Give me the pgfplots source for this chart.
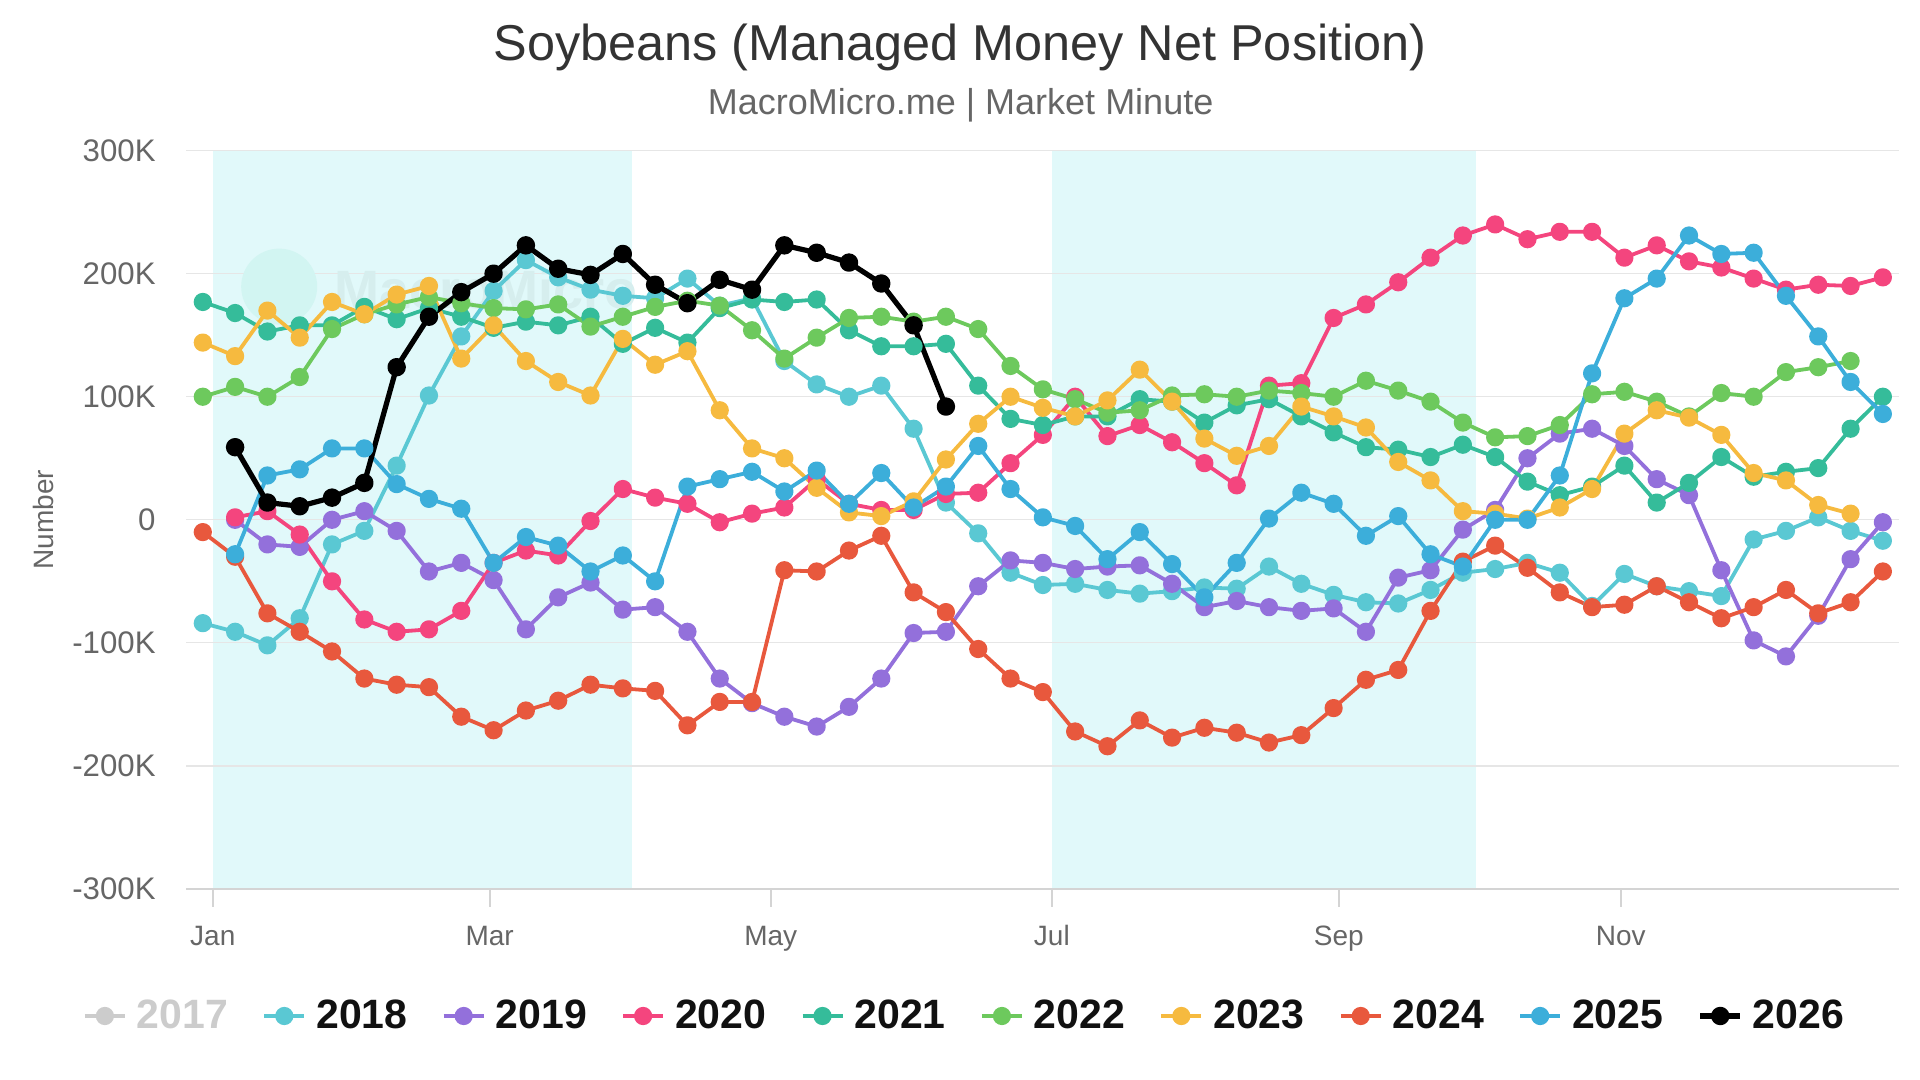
\documentclass[border=0pt]{standalone}
\usepackage{fontspec}
\setmainfont{Liberation Sans}
\usepackage{pgfplots}
\pgfplotsset{compat=1.18}
\definecolor{c2017}{HTML}{CCCCCC}
\definecolor{c2018}{HTML}{5AC8D3}
\definecolor{c2019}{HTML}{9370DB}
\definecolor{c2020}{HTML}{F4457E}
\definecolor{c2021}{HTML}{35BC9A}
\definecolor{c2022}{HTML}{6DC95D}
\definecolor{c2023}{HTML}{F6BA3F}
\definecolor{c2024}{HTML}{E8583D}
\definecolor{c2025}{HTML}{3CAEDA}
\definecolor{c2026}{HTML}{000000}
\definecolor{bandc}{HTML}{E1F9FA}
\definecolor{gridgrey}{HTML}{E6E6E6}
\definecolor{axisgrey}{HTML}{D4D4D4}
\definecolor{labelgrey}{HTML}{666666}
\definecolor{titlegrey}{HTML}{333333}
\definecolor{legendtext}{HTML}{111111}
\definecolor{wmtext}{HTML}{D6EEEE}
\definecolor{wmcircle}{HTML}{D2F5F2}
\pgfplotsset{
  ser/.style={color=#1, line width=1.9pt, line join=round, mark=*, mark size=3.6pt, mark options={draw=none, fill=#1}},
}
\begin{document}
\begin{tikzpicture}
\begin{axis}[
  set layers,
  at={(93pt,95.5pt)}, anchor=south west,
  scale only axis, width=856.5pt, height=369.2pt,
  xmin=-0.52, xmax=52.5, ymin=-300, ymax=300,
  axis x line*=bottom, axis y line*=left,
  x axis line style={draw=axisgrey, line width=1pt},
  y axis line style={draw=none},
  xtick={0.31,8.88,17.58,26.28,35.16,43.89},
  xticklabels={Jan,Mar,May,Jul,Sep,Nov},
  ytick={-300,-200,-100,0,100,200,300},
  yticklabels={-300K,-200K,-100K,0,100K,200K,300K},
  ymajorgrids, grid style={draw=gridgrey, line width=0.6pt},
  x tick style={draw=axisgrey, line width=1pt},
  y tick style={draw=none},
  major tick length=8.8pt,
  tick align=outside,
  xticklabel style={font=\fontsize{14}{16}\selectfont, text=labelgrey, anchor=base, inner sep=0pt, yshift=-19.7pt},
  yticklabel style={font=\fontsize{15.6}{17}\selectfont, text=labelgrey, anchor=east, inner sep=0pt, xshift=-6.2pt},
  title={Soybeans (Managed Money Net Position)},
  title style={at={(axis description cs:0.4519,1.106)}, anchor=base, font=\fontsize{25.2}{30}\selectfont, text=titlegrey, inner sep=0pt},
  ylabel={Number},
  ylabel style={at={(axis description cs:-0.0829,0.5)}, anchor=center, font=\fontsize{14}{16}\selectfont, text=labelgrey, inner sep=0pt},
  legend columns=10,
  legend style={at={(0.4539,-0.172)}, anchor=center, draw=none, fill=none,
    font=\bfseries\fontsize{20.5}{23}\selectfont, text=legendtext,
    /tikz/every odd column/.append style={column sep=5pt},
    /tikz/every even column/.append style={column sep=17.2pt},
    nodes={inner xsep=0pt, inner ysep=1pt}},
  legend image code/.code={\draw[mark repeat=2,mark phase=2,#1] plot coordinates {(0pt,0pt) (10pt,0pt) (20pt,0pt)};},
]
% quarter bands
\addplot[draw=none, fill=bandc, forget plot, on layer=axis background] coordinates {(0.31,-300) (13.27,-300) (13.27,300) (0.31,300)} -- cycle;
\addplot[draw=none, fill=bandc, forget plot, on layer=axis background] coordinates {(26.28,-300) (39.41,-300) (39.41,300) (26.28,300)} -- cycle;
% watermark
\fill[wmcircle] (rel axis cs:0.0544,0.8158) circle[radius=19pt];
\node[font=\bfseries\fontsize{27}{30}\selectfont, text=wmtext, anchor=center] at (rel axis cs:0.1752,0.8126) {MacroMicro};
% 2017 hidden
\addlegendimage{c2017, line width=1.9pt, mark=*, mark size=3.6pt, mark options={draw=none, fill=c2017}}
\addlegendentry{\textcolor{c2017}{2017}}
% 2018
\addplot[ser=c2018] coordinates {(0,-84)(1,-91)(2,-102)(3,-80)(4,-20)(5,-9)(6,44)(7,101)(8,149)(9,186)(10,211)(11,197)(12,187)(13,182)(14,180)(15,196)(16,174)(17,180)(18,129)(19,110)(20,100)(21,109)(22,74)(23,14)(24,-11)(25,-43)(26,-53)(27,-52)(28,-57)(29,-60)(30,-58)(31,-55)(32,-56)(33,-38)(34,-52)(35,-61)(36,-67)(37,-68)(38,-57)(39,-43)(40,-40)(41,-35)(42,-43)(43,-70)(44,-44)(45,-54)(46,-58)(47,-62)(48,-16)(49,-9)(50,2)(51,-9)(52,-17)};
\addlegendentry{2018}
% 2019
\addplot[ser=c2019] coordinates {(1,0)(2,-20)(3,-22)(4,0)(5,7)(6,-9)(7,-42)(8,-35)(9,-49)(10,-89)(11,-63)(12,-51)(13,-73)(14,-71)(15,-91)(16,-129)(17,-149)(18,-160)(19,-168)(20,-152)(21,-129)(22,-92)(23,-91)(24,-54)(25,-33)(26,-35)(27,-40)(28,-38)(29,-37)(30,-52)(31,-71)(32,-66)(33,-71)(34,-74)(35,-72)(36,-91)(37,-47)(38,-41)(39,-8)(40,8)(41,50)(42,70)(43,74)(44,60)(45,33)(46,20)(47,-41)(48,-98)(49,-111)(50,-78)(51,-32)(52,-2)};
\addlegendentry{2019}
% 2020
\addplot[ser=c2020] coordinates {(1,2)(2,7)(3,-12)(4,-50)(5,-81)(6,-91)(7,-89)(8,-74)(9,-35)(10,-25)(11,-29)(12,-1)(13,25)(14,18)(15,13)(16,-2)(17,5)(18,10)(19,33)(20,13)(21,8)(22,8)(23,21)(24,22)(25,46)(26,69)(27,100)(28,68)(29,77)(30,63)(31,46)(32,28)(33,109)(34,111)(35,164)(36,175)(37,193)(38,213)(39,231)(40,240)(41,228)(42,234)(43,234)(44,213)(45,223)(46,210)(47,205)(48,196)(49,187)(50,191)(51,190)(52,197)};
\addlegendentry{2020}
% 2021
\addplot[ser=c2021] coordinates {(0,177)(1,168)(2,153)(3,158)(4,158)(5,173)(6,163)(7,172)(8,165)(9,156)(10,161)(11,158)(12,165)(13,143)(14,156)(15,144)(16,172)(17,179)(18,177)(19,179)(20,154)(21,141)(22,141)(23,143)(24,109)(25,82)(26,77)(27,84)(28,84)(29,98)(30,96)(31,79)(32,93)(33,98)(34,84)(35,71)(36,59)(37,57)(38,51)(39,61)(40,51)(41,31)(42,20)(43,27)(44,44)(45,14)(46,30)(47,51)(48,35)(49,39)(50,42)(51,74)(52,100)};
\addlegendentry{2021}
% 2022
\addplot[ser=c2022] coordinates {(0,100)(1,108)(2,100)(3,116)(4,155)(5,167)(6,175)(7,181)(8,176)(9,172)(10,171)(11,175)(12,157)(13,165)(14,173)(15,178)(16,174)(17,154)(18,131)(19,148)(20,164)(21,165)(22,161)(23,165)(24,155)(25,125)(26,106)(27,98)(28,87)(29,89)(30,101)(31,102)(32,100)(33,105)(34,103)(35,100)(36,113)(37,105)(38,96)(39,79)(40,67)(41,68)(42,77)(43,102)(44,104)(45,96)(46,84)(47,103)(48,100)(49,120)(50,124)(51,129)};
\addlegendentry{2022}
% 2023
\addplot[ser=c2023] coordinates {(0,144)(1,133)(2,170)(3,148)(4,177)(5,167)(6,183)(7,190)(8,131)(9,158)(10,129)(11,112)(12,101)(13,147)(14,126)(15,137)(16,89)(17,58)(18,50)(19,26)(20,6)(21,3)(22,15)(23,49)(24,78)(25,100)(26,91)(27,84)(28,97)(29,122)(30,96)(31,66)(32,52)(33,60)(34,92)(35,84)(36,75)(37,47)(38,32)(39,7)(40,5)(41,1)(42,10)(43,25)(44,70)(45,89)(46,83)(47,69)(48,38)(49,32)(50,12)(51,5)};
\addlegendentry{2023}
% 2024
\addplot[ser=c2024] coordinates {(0,-10)(1,-30)(2,-76)(3,-91)(4,-107)(5,-129)(6,-134)(7,-136)(8,-160)(9,-171)(10,-155)(11,-147)(12,-134)(13,-137)(14,-139)(15,-167)(16,-148)(17,-148)(18,-41)(19,-42)(20,-25)(21,-13)(22,-59)(23,-75)(24,-105)(25,-129)(26,-140)(27,-172)(28,-184)(29,-163)(30,-177)(31,-169)(32,-173)(33,-181)(34,-175)(35,-153)(36,-130)(37,-122)(38,-74)(39,-34)(40,-21)(41,-39)(42,-59)(43,-71)(44,-69)(45,-54)(46,-67)(47,-80)(48,-71)(49,-57)(50,-76)(51,-67)(52,-42)};
\addlegendentry{2024}
% 2025
\addplot[ser=c2025] coordinates {(1,-28)(2,36)(3,41)(4,58)(5,58)(6,29)(7,17)(8,9)(9,-35)(10,-14)(11,-21)(12,-42)(13,-29)(14,-50)(15,27)(16,33)(17,39)(18,23)(19,40)(20,13)(21,38)(22,10)(23,27)(24,60)(25,25)(26,2)(27,-5)(28,-32)(29,-10)(30,-36)(31,-63)(32,-35)(33,1)(34,22)(35,13)(36,-13)(37,3)(38,-28)(39,-38)(40,0)(41,0)(42,36)(43,119)(44,180)(45,196)(46,231)(47,216)(48,217)(49,182)(50,149)(51,112)(52,86)};
\addlegendentry{2025}
% 2026
\addplot[ser=c2026, line width=2.6pt, mark size=3.3pt] coordinates {(1,59)(2,14)(3,11)(4,18)(5,30)(6,124)(7,165)(8,185)(9,200)(10,223)(11,204)(12,199)(13,216)(14,191)(15,176)(16,195)(17,187)(18,223)(19,217)(20,209)(21,192)(22,158)(23,92)};
\addlegendentry{2026}
\end{axis}
\node[anchor=base, font=\fontsize{18}{22}\selectfont, text=labelgrey, inner sep=0pt] at (480.3pt,482.5pt) {MacroMicro.me | Market Minute};
\pgfresetboundingbox
\path[use as bounding box] (0,0) rectangle (960pt,540pt);
\end{tikzpicture}
\end{document}
